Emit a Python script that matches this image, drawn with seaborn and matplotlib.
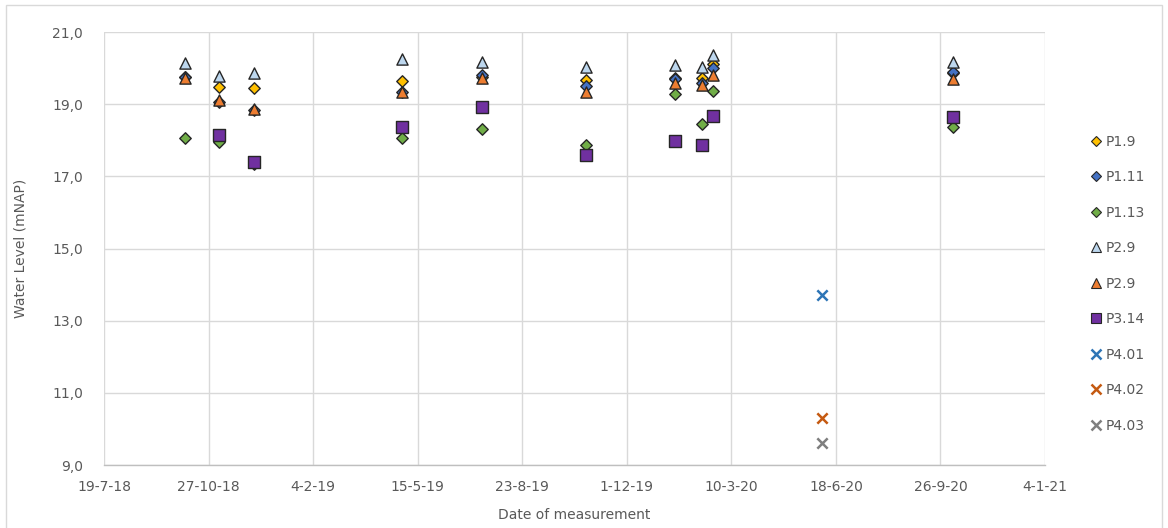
import numpy as np
import pandas as pd
import matplotlib
matplotlib.use("Agg")
import matplotlib.pyplot as plt
import matplotlib.dates as mdates
from matplotlib.ticker import FuncFormatter, FixedLocator
from matplotlib.lines import Line2D
import seaborn as sns

# ---- data ----
dates = ["2018-10-04", "2018-11-06", "2018-12-09", "2019-04-30", "2019-07-16",
         "2019-10-23", "2020-01-16", "2020-02-11", "2020-02-21", "2020-06-05",
         "2020-10-08"]
nan = np.nan
p1_9 = [19.75, 19.47, 19.44, 19.64, 19.75, 19.67, 19.72, 19.72, 20.10, nan, 19.85]
p1_11 = [19.75, 19.05, 18.85, 19.35, 19.82, 19.49, 19.70, 19.60, 20.00, nan, 19.90]
p1_13 = [18.07, 17.95, 17.35, 18.07, 18.30, 17.87, 19.28, 18.45, 19.37, nan, 18.38]
p2_9a = [20.15, 19.78, 19.86, 20.25, 20.18, 20.02, 20.08, 20.04, 20.36, nan, 20.17]
p2_9b = [19.72, 19.12, 18.87, 19.33, 19.72, 19.35, 19.59, 19.53, 19.81, nan, 19.70]
p3_14 = [nan, 18.15, 17.40, 18.38, 18.92, 17.60, 17.97, 17.87, 18.67, nan, 18.65]
p4_01 = [nan, nan, nan, nan, nan, nan, nan, nan, nan, 13.70, nan]
p4_02 = [nan, nan, nan, nan, nan, nan, nan, nan, nan, 10.30, nan]
p4_03 = [nan, nan, nan, nan, nan, nan, nan, nan, nan, 9.60, nan]

series_names = ["P1.9", "P1.11", "P1.13", "P2.9", "P2.9", "P3.14", "P4.01", "P4.02", "P4.03"]
series_values = [p1_9, p1_11, p1_13, p2_9a, p2_9b, p3_14, p4_01, p4_02, p4_03]

x_tick_dates = ["2018-07-19", "2018-10-27", "2019-02-04", "2019-05-15", "2019-08-23",
                "2019-12-01", "2020-03-10", "2020-06-18", "2020-09-26", "2021-01-04"]
y_ticks = [9, 11, 13, 15, 17, 19, 21]

# ---- styles ----
styles = [
    dict(marker="D", color="#FFC000", s=34, edge="#262626"),
    dict(marker="D", color="#4472C4", s=34, edge="#262626"),
    dict(marker="D", color="#70AD47", s=34, edge="#262626"),
    dict(marker="^", color="#BDD7EE", s=65, edge="#262626"),
    dict(marker="^", color="#ED7D31", s=65, edge="#262626"),
    dict(marker="s", color="#7030A0", s=78, edge="#262626"),
    dict(marker="x", color="#2E75B6", s=55, edge=None),
    dict(marker="x", color="#C55A11", s=55, edge=None),
    dict(marker="x", color="#7F7F7F", s=55, edge=None),
]

sns.set_theme(style="white")
plt.rcParams["font.family"] = ["DejaVu Sans"]

fig = plt.figure(figsize=(11.68, 5.28), dpi=100)
ax = fig.add_axes([104 / 1168, 1 - 465 / 528, (1045 - 104) / 1168, (465 - 32) / 528])

dt = pd.to_datetime(dates)
handles = []
for name, vals, st in zip(series_names, series_values, styles):
    df = pd.DataFrame({"date": dt, "level": vals}).dropna()
    if st["marker"] == "x":
        sns.scatterplot(data=df, x="date", y="level", ax=ax, marker="x",
                        color=st["color"], s=st["s"], linewidth=1.8, zorder=3)
        h = Line2D([], [], linestyle="none", marker="x", color=st["color"],
                   markersize=7, markeredgewidth=1.8)
    else:
        sns.scatterplot(data=df, x="date", y="level", ax=ax, marker=st["marker"],
                        color=st["color"], s=st["s"], edgecolor=st["edge"],
                        linewidth=1.0, zorder=3)
        ms = {"D": 5, "^": 7, "s": 7}[st["marker"]]
        h = Line2D([], [], linestyle="none", marker=st["marker"],
                   markerfacecolor=st["color"], markeredgecolor=st["edge"],
                   markeredgewidth=0.8, markersize=ms)
    handles.append(h)

xt = [mdates.date2num(pd.Timestamp(d)) for d in x_tick_dates]
ax.set_xlim(xt[0], xt[-1])
ax.xaxis.set_major_locator(FixedLocator(xt))


def fmt_date(v, pos):
    d = mdates.num2date(v)
    return f"{d.day}-{d.month}-{d.strftime('%y')}"


ax.xaxis.set_major_formatter(FuncFormatter(fmt_date))
ax.set_ylim(9, 21)
ax.set_yticks(y_ticks)
ax.yaxis.set_major_formatter(FuncFormatter(lambda v, p: f"{v:.1f}".replace(".", ",")))

ax.grid(True, color="#D9D9D9", linewidth=1.0)
ax.set_axisbelow(True)
for side in ["top", "right", "left"]:
    ax.spines[side].set_visible(False)
ax.spines["bottom"].set_color("#BFBFBF")
ax.spines["bottom"].set_linewidth(1.0)
ax.tick_params(axis="y", length=0, labelsize=10, labelcolor="#595959", pad=15)
ax.tick_params(axis="x", length=0, labelsize=10, labelcolor="#595959", pad=11)

ax.set_xlabel("Date of measurement", fontsize=10, color="#595959", labelpad=10)
ax.set_ylabel("Water Level (mNAP)", fontsize=10, color="#595959", labelpad=18)

fig.legend(handles, series_names, loc="upper left",
           bbox_to_anchor=(1083 / 1168, 1 - 129 / 528), frameon=False,
           fontsize=10, labelcolor="#595959", handletextpad=0.2,
           labelspacing=1.55, handlelength=1.0, borderaxespad=0)

# chart-area border
border = plt.Rectangle((6 / 1168, -0.02), (1162 - 6) / 1168, 1.02 - 5 / 528,
                       transform=fig.transFigure, fill=False,
                       edgecolor="#D9D9D9", linewidth=1.0)
fig.patches.append(border)

fig.savefig("out.png", dpi=100)
